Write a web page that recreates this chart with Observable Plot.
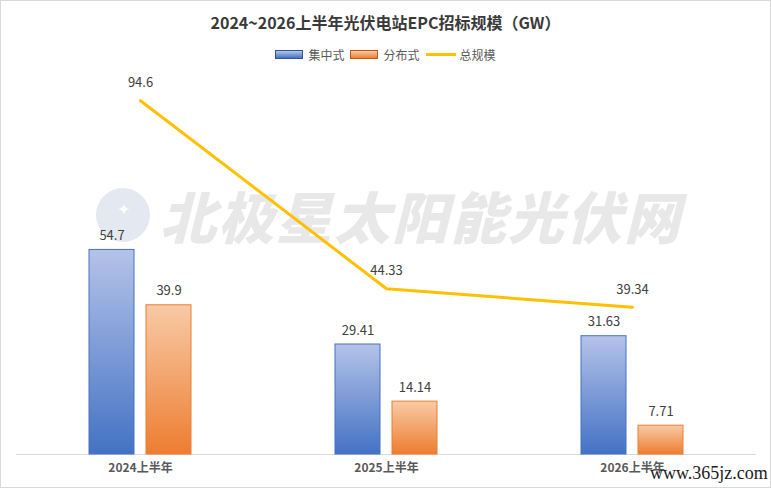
<!DOCTYPE html>
<html><head><meta charset="utf-8">
<script src="https://cdn.jsdelivr.net/npm/d3@7"></script>
<script src="https://cdn.jsdelivr.net/npm/@observablehq/plot@0.6"></script>
<style>
body{margin:0;background:#fff;font-family:"Noto Sans CJK SC","Noto Sans",sans-serif;}
#wrap{position:relative;width:771px;height:488px;overflow:hidden;background:#fff;}
#frame{position:absolute;left:0;top:0;width:769px;height:486px;border:1px solid #d9d9d9;pointer-events:none;}
#title{position:absolute;top:10px;left:0;width:771px;text-align:center;font-size:16px;line-height:24px;font-weight:bold;color:#3a3a3a;}
#legend{position:absolute;top:45px;left:0;width:771px;height:18px;display:flex;justify-content:center;align-items:center;font-size:12px;color:#595959;}
#legend .sw{width:26px;height:7px;margin-right:5px;}
#legend .it{display:flex;align-items:center;margin:0 3px;}
#wm{position:absolute;left:160px;top:180px;font-size:56px;font-weight:900;font-style:italic;color:#e8e8e8;letter-spacing:2px;white-space:nowrap;line-height:70px;}
#logo{position:absolute;left:96px;top:188px;width:54px;height:54px;border-radius:50%;background:#e4e9f1;color:#fff;font-size:16px;text-align:center;line-height:40px;}
#site{position:absolute;left:650px;top:463px;font-family:"Liberation Serif","DejaVu Serif",serif;font-size:18px;color:#1a1a1a;white-space:nowrap;}
#chart{position:absolute;left:0;top:0;}
</style></head>
<body>
<div id="wrap">
  <div id="logo">✦</div>
  <div id="wm">北极星太阳能光伏网</div>
  <div id="chart"></div>
  <div id="title">2024~2026上半年光伏电站EPC招标规模（GW）</div>
  <div id="legend">
    <div class="it"><div class="sw" style="background:linear-gradient(#b4c7e7,#4472c4);border:1px solid #2f5597"></div>集中式</div>
    <div class="it"><div class="sw" style="background:linear-gradient(#f8cbad,#ed7d31);border:1px solid #c55a11"></div>分布式</div>
    <div class="it"><div style="width:30px;height:3px;background:#ffc000;margin-right:4px"></div>总规模</div>
  </div>
  <div id="site">www.365jz.com</div>
  <div id="frame"></div>
</div>
<script>
const categories = ["2024上半年", "2025上半年", "2026上半年"];
const centralized = [54.7, 29.41, 31.63];
const distributed = [39.9, 14.14, 7.71];
const total = [94.6, 44.33, 39.34];

const rows = categories.map((c, i) => ({cat: c, c: centralized[i], d: distributed[i], t: total[i]}));
const fmt = v => String(v);

const svg = Plot.plot({
  width: 771,
  height: 488,
  marginLeft: 16,
  marginRight: 15,
  marginTop: 80,
  marginBottom: 34,
  style: {fontFamily: "'Noto Sans CJK SC', sans-serif", background: "transparent"},
  x: {domain: categories, padding: 0, label: null, axis: null},
  y: {domain: [0, 100], axis: null},
  marks: [
    Plot.ruleY([0], {stroke: "#d9d9d9", strokeWidth: 1}),
    Plot.barY(rows, {x: "cat", y: "c", fill: "url(#gBlue)", stroke: "#4472c4", strokeWidth: 1, insetLeft: 72, insetRight: 129}),
    Plot.barY(rows, {x: "cat", y: "d", fill: "url(#gOrange)", stroke: "#ed7d31", strokeWidth: 1, insetLeft: 129, insetRight: 72}),
    Plot.line(rows, {x: "cat", y: "t", stroke: "#ffc000", strokeWidth: 3}),
    Plot.text(rows, {x: "cat", y: "c", text: d => fmt(d.c), dx: -28.5, dy: -14, fill: "#404040", fontSize: 13}),
    Plot.text(rows, {x: "cat", y: "d", text: d => fmt(d.d), dx: 28.5, dy: -14, fill: "#404040", fontSize: 13}),
    Plot.text(rows, {x: "cat", y: "t", text: d => fmt(d.t), dy: -18, fill: "#404040", fontSize: 13}),
    Plot.axisX({tickSize: 0, tickPadding: 9, fontWeight: "bold", fill: "#595959", fontSize: 12, label: null})
  ]
});

d3.select(svg).insert("defs", ":first-child").html(`
  <linearGradient id="gBlue" x1="0" y1="0" x2="0" y2="1">
    <stop offset="0" stop-color="#b4c3e9"/>
    <stop offset="1" stop-color="#4472c4"/>
  </linearGradient>
  <linearGradient id="gOrange" x1="0" y1="0" x2="0" y2="1">
    <stop offset="0" stop-color="#f8caa6"/>
    <stop offset="1" stop-color="#ed7d31"/>
  </linearGradient>`);

document.getElementById("chart").appendChild(svg);
</script>
</body></html>
